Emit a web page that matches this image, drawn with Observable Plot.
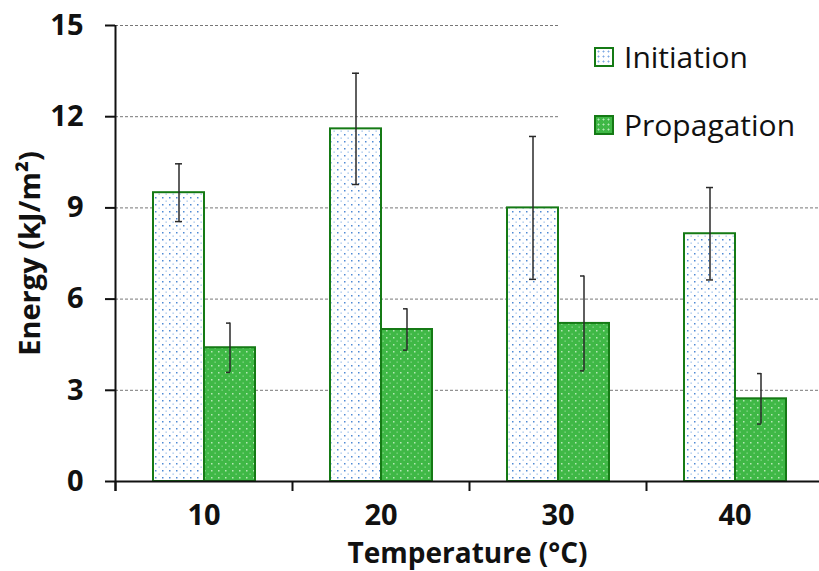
<!DOCTYPE html>
<html>
<head>
<meta charset="utf-8">
<script src="https://cdn.jsdelivr.net/npm/d3@7"></script>
<script src="https://cdn.jsdelivr.net/npm/@observablehq/plot@0.6"></script>
<style>
  html, body { margin: 0; padding: 0; background: #fff; overflow: hidden; }
  #wrap { position: relative; width: 819px; height: 571px; font-family: "Open Sans", sans-serif; }
  #legend { position: absolute; left: 558px; top: 14px; width: 261px; height: 166px; background: #fff; }
  .item { position: absolute; left: 36px; height: 34px; display: flex; align-items: center; }
  .sw { width: 16px; height: 16px; border: 2px solid #157a15; margin-right: 10px; }
  .lab { font-size: 30px; color: #111; line-height: 34px; }
</style>
</head>
<body>
<div id="wrap"></div>
<script>
const temps = [10, 20, 30, 40];
const initiation = [9.5, 11.6, 9.0, 8.15];
const initiationErr = [0.95, 1.83, 2.35, 1.52];
const propagation = [4.4, 5.0, 5.2, 2.72];
const propagationErr = [0.81, 0.68, 1.56, 0.83];
const yTicks = [0, 3, 6, 9, 12, 15];
const gridTicks = [3, 6, 9, 12, 15];
const seriesNames = ["Initiation", "Propagation"];
const xTitle = "Temperature (°C)";
const yTitle = "Energy (kJ/m²)";

const initData = temps.map((t, i) => ({t, v: initiation[i], lo: initiation[i] - initiationErr[i], hi: initiation[i] + initiationErr[i]}));
const propData = temps.map((t, i) => ({t, v: propagation[i], lo: propagation[i] - propagationErr[i], hi: propagation[i] + propagationErr[i]}));

const green = "#3fb846";
const edge = "#157a15";
const errColor = "#2a2a2a";

const chart = Plot.plot({
  width: 819,
  height: 571,
  marginLeft: 115,
  marginRight: 0,
  marginTop: 25,
  marginBottom: 90,
  style: {fontFamily: "'Open Sans', sans-serif", color: "#111", background: "transparent"},
  x: {type: "band", domain: temps, range: [115, 823], padding: 0},
  y: {domain: [0, 15]},
  marks: [
    Plot.gridY(gridTicks, {stroke: "#777", strokeOpacity: 1, strokeDasharray: "3,2", strokeWidth: 1}),
    Plot.barY(initData, {x: "t", y: "v", fill: "url(#patInit)", stroke: edge, strokeWidth: 2, insetLeft: 38, insetRight: 88}),
    Plot.barY(propData, {x: "t", y: "v", fill: "url(#patProp)", stroke: edge, strokeWidth: 2, insetLeft: 89, insetRight: 37}),
    Plot.ruleX(initData, {x: "t", y1: "lo", y2: "hi", dx: -25, stroke: errColor, strokeWidth: 1.5}),
    Plot.tickY(initData, {x: "t", y: "lo", insetLeft: 60, insetRight: 110, stroke: errColor, strokeWidth: 1.5}),
    Plot.tickY(initData, {x: "t", y: "hi", insetLeft: 60, insetRight: 110, stroke: errColor, strokeWidth: 1.5}),
    Plot.ruleX(propData, {x: "t", y1: "lo", y2: "hi", dx: 26, stroke: errColor, strokeWidth: 1.5}),
    Plot.tickY(propData, {x: "t", y: "lo", insetLeft: 111, insetRight: 62, stroke: errColor, strokeWidth: 1.5}),
    Plot.tickY(propData, {x: "t", y: "hi", insetLeft: 111, insetRight: 62, stroke: errColor, strokeWidth: 1.5}),
    Plot.ruleY([0], {stroke: "#111", strokeWidth: 2}),
    Plot.tickX(temps, {x: d => d, dx: -88.5, insetTop: 456, insetBottom: -10, stroke: "#111", strokeWidth: 2}),
    Plot.tickX([temps[0]], {x: d => d, dx: -88.5, insetBottom: -10, stroke: "#111", strokeWidth: 2}),
    Plot.axisY({ticks: yTicks, tickSize: 10, tickPadding: 22, tickFormat: d => String(d), fontSize: 29, fontWeight: "bold", label: null, strokeWidth: 2}),
    Plot.axisX({tickSize: 0, tickPadding: 23, fontSize: 29, fontWeight: "bold", label: null}),
    Plot.text([xTitle], {frameAnchor: "bottom", lineAnchor: "middle", textAnchor: "middle", dy: 73, fontSize: 28, fontWeight: "bold", fill: "#111"}),
    Plot.text([yTitle], {frameAnchor: "left", textAnchor: "middle", lineAnchor: "middle", rotate: -90, dx: -85, fontSize: 29, fontWeight: "bold", fill: "#111"})
  ]
});

// patterns
const defs = d3.select(chart).insert("defs", ":first-child");
const p1 = defs.append("pattern").attr("id", "patInit").attr("patternUnits", "userSpaceOnUse").attr("width", 7).attr("height", 7);
p1.append("rect").attr("width", 7).attr("height", 7).attr("fill", "#fff");
p1.append("rect").attr("x", 1).attr("y", 1).attr("width", 1.5).attr("height", 1.5).attr("fill", "#4f8ad4");
p1.append("rect").attr("x", 4.5).attr("y", 4.5).attr("width", 1.3).attr("height", 1.3).attr("fill", "#9bbfea");
const p2 = defs.append("pattern").attr("id", "patProp").attr("patternUnits", "userSpaceOnUse").attr("width", 7).attr("height", 7);
p2.append("rect").attr("width", 7).attr("height", 7).attr("fill", green);
p2.append("rect").attr("x", 1).attr("y", 1).attr("width", 1.5).attr("height", 1.5).attr("fill", "#b6e8b6");
p2.append("rect").attr("x", 4.5).attr("y", 4.5).attr("width", 1.3).attr("height", 1.3).attr("fill", "#8ad88c");

const wrap = document.getElementById("wrap");
wrap.appendChild(chart);

// legend overlay
const legend = document.createElement("div");
legend.id = "legend";
const swatches = [
  "background: radial-gradient(circle, #7ea9e2 0.9px, #fff 1.1px) 0 0/5px 5px;",
  "background: radial-gradient(circle, #b6e8b6 0.9px, " + green + " 1.1px) 0 0/5px 5px;"
];
const tops = [26, 94];
seriesNames.forEach((name, i) => {
  const item = document.createElement("div");
  item.className = "item";
  item.style.top = tops[i] + "px";
  item.innerHTML = `<div class="sw" style="${swatches[i]}"></div><span class="lab">${name}</span>`;
  legend.appendChild(item);
});
wrap.appendChild(legend);
</script>
</body>
</html>
